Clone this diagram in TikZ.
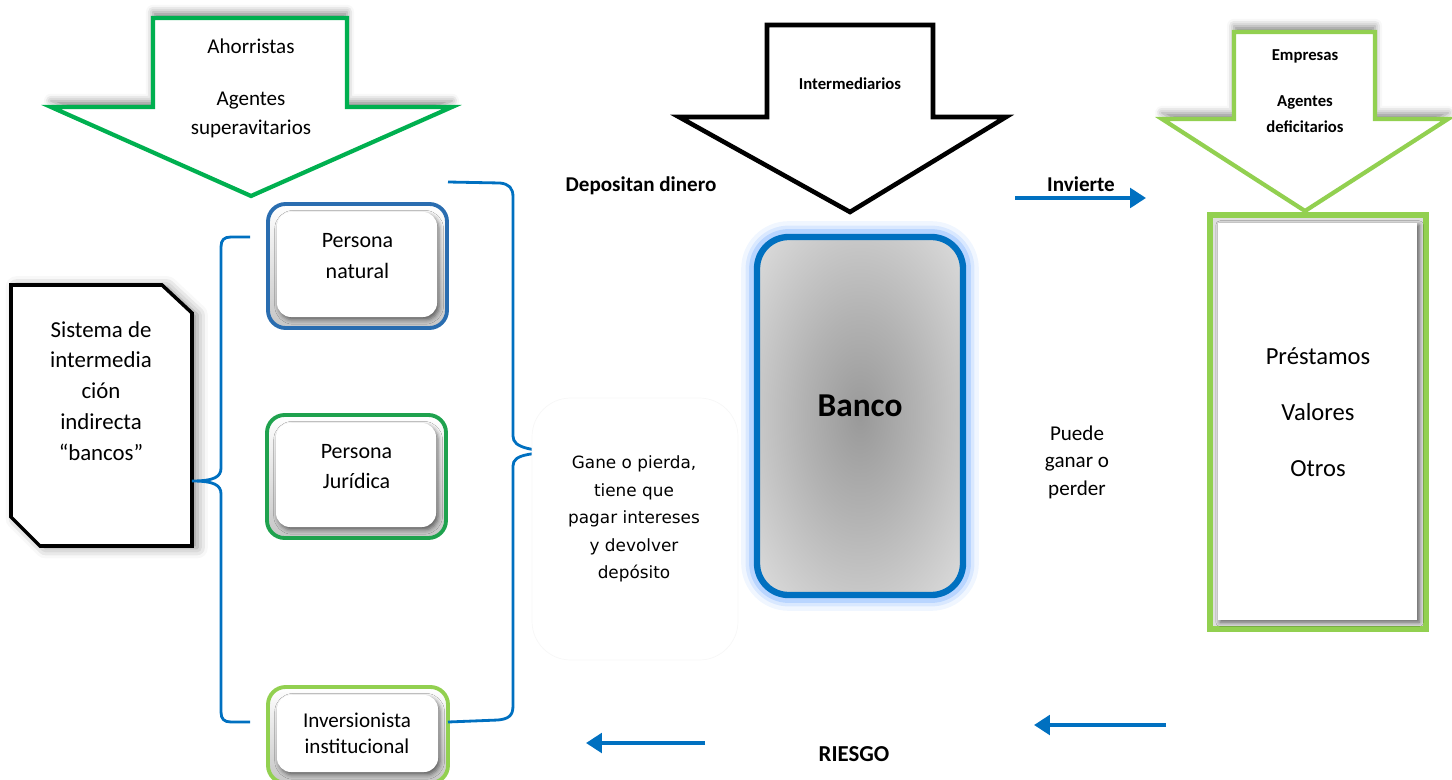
\documentclass[tikz,border=0pt]{standalone}
\usepackage{fontspec}
\setmainfont{Carlito}
\newfontfamily\notefont{DejaVu Sans}
\usetikzlibrary{shadows.blur,arrows.meta,calc}

\definecolor{bluebr}{HTML}{0070C0}
\definecolor{greenA}{HTML}{00B050}
\definecolor{greenJ}{HTML}{1FA24E}
\definecolor{greenL}{HTML}{92D050}
\definecolor{naturalblue}{HTML}{2A6DB0}
\definecolor{glowblue}{HTML}{6FA8FF}

% soft grey radial fill for the bank
\pgfdeclareradialshading{bankshade}{\pgfpoint{0bp}{0bp}}{%
  color(0bp)=(black!40); color(14bp)=(black!30); color(32bp)=(black!16);
  color(50bp)=(black!6); color(100bp)=(black!6)}

% bevelled rounded box: name, cx, cy, w, h, colour, text
\newcommand\bevelbox[7]{%
  \draw[line width=2.2pt, draw=#6, top color=white, bottom color=gray!45,
        rounded corners=10pt]
    (#2-#4/2,#3-#5/2) rectangle (#2+#4/2,#3+#5/2);
  \fill[white, rounded corners=8pt,
        blur shadow={shadow xshift=1.2pt, shadow yshift=-1.6pt,
                     shadow blur radius=2.5pt, shadow opacity=55}]
    (#2-#4/2+9,#3-#5/2+8) rectangle (#2+#4/2-10,#3+#5/2-11);
  \node[lbl, font=\fontsize{12.5}{17.6}\selectfont] (#1) at (#2,#3-10) {#7};
}

\begin{document}
\begin{tikzpicture}[x=0.02cm,y=-0.02cm,
  lbl/.style={align=center, inner sep=0pt},
  bracepath/.style={draw=bluebr, line width=1.6pt},
  flow/.style={draw=bluebr, line width=2.4pt,
               -{Triangle[length=9pt,width=11pt]}},
  bigarrow/.style={fill=white, line width=2.4pt, line join=miter},
  upshadow/.style={blur shadow={shadow xshift=0pt, shadow yshift=3.5pt,
                   shadow blur radius=4pt, shadow opacity=45}},
  boldlbl/.style={lbl, font=\bfseries\fontsize{12}{14}\selectfont},
]
\useasboundingbox (0,0) rectangle (1452,780);
\clip (0,0) rectangle (1452,780);

% ---- big block arrows at the top ----
\draw[bigarrow, draw=greenA, upshadow]
  (153,18) -- (347,18) -- (347,107) -- (452,107) -- (251,196)
  -- (51,107) -- (153,107) -- cycle;
\node[lbl, font=\fontsize{12}{14}\selectfont] (ahorr) at (251,46) {Ahorristas};
\node[lbl, font=\fontsize{12}{17}\selectfont] (agsup) at (251,115)
  {Agentes\\superavitarios};

\draw[bigarrow, draw=black, line width=2.6pt]
  (767,25) -- (933,25) -- (933,117) -- (1006,117) -- (850,212)
  -- (679,117) -- (767,117) -- cycle;
\node[lbl, font=\bfseries\fontsize{9.5}{11}\selectfont] (interm) at (850,84)
  {Intermediarios};

\draw[bigarrow, draw=greenL, upshadow]
  (1234,32) -- (1375,32) -- (1375,119) -- (1448,119) -- (1305,211)
  -- (1162,119) -- (1234,119) -- cycle;
\node[lbl, font=\bfseries\fontsize{9.5}{11}\selectfont] (empr) at (1305,56)
  {Empresas};
\node[lbl, font=\bfseries\fontsize{9.5}{15}\selectfont] (agdef) at (1305,114)
  {Agentes\\deficitarios};

% ---- savers ----
\bevelbox{pnat}{357.5}{266}{179}{124}{naturalblue}{Persona\\natural}
\bevelbox{pjur}{356.5}{476.5}{179}{123}{greenJ}{Persona\\Jurídica}
\bevelbox{inst}{358}{735}{180}{96}{greenL}{}
\node[lbl, font=\fontsize{12}{14.8}\selectfont] (insttxt) at (357,733)
  {Inversionista\\institucional};

% ---- indirect intermediation system ----
\draw[line width=2pt, fill=white,
      blur shadow={shadow xshift=3pt, shadow yshift=-1pt,
                   shadow blur radius=6pt, shadow opacity=45}]
  (11,285) -- (162,285) -- (192,313) -- (192,546) -- (40,546)
  -- (11,517) -- cycle;
\node[lbl, font=\fontsize{13}{17.6}\selectfont] (sis) at (101,391)
  {Sistema de\\intermedia\\ción\\indirecta\\“bancos”};
\coordinate (sisE) at (192,481);

% ---- braces ----
\coordinate (lbTop) at (250,237);
\coordinate (lbBot) at (250,722);
\draw[bracepath] (lbTop) -- (231,237) .. controls (224,237) and (221,240) .. (221,247)
  -- (221,468) .. controls (221,477) and (214,481) .. (sisE)
  .. controls (214,481) and (221,485) .. (221,494)
  -- (221,712) .. controls (221,719) and (224,722) .. (231,722) -- (lbBot);

\coordinate (rbTop) at (448,182);
\coordinate (rbBot) at (448,722);
\coordinate (rbTip) at (581,452);
\draw[bracepath] (rbTop) -- (500,183) .. controls (509,184) and (513,188) .. (513,197)
  -- (513,436) .. controls (513,448) and (530,452) .. (rbTip)
  .. controls (530,452) and (513,454) .. (513,466)
  -- (513,706) .. controls (513,716) and (508,719) .. (498,720) -- (rbBot);

% ---- note box ----
\draw[draw=gray!6, fill=white, rounded corners=22pt] (532,398) rectangle (738,660);
\node[lbl, font=\notefont\fontsize{9.6}{15.6}\selectfont] (gane) at (634,519)
  {Gane o pierda,\\tiene que\\pagar intereses\\y devolver\\depósito};

% ---- bank ----
\foreach \w/\o in {18/0.10,13/0.18,9/0.3}
  \draw[draw=glowblue, line width=\w pt, opacity=\o, rounded corners=18pt]
    (757,237) rectangle (963,595);
\draw[draw=bluebr, line width=3.6pt, rounded corners=18pt, shading=bankshade]
  (757,237) rectangle (963,595);
\node[lbl, font=\bfseries\fontsize{19}{22}\selectfont] (banco) at (860,406) {Banco};

\node[boldlbl] (dep) at (641,186) {Depositan dinero};

% ---- investments ----
\node[boldlbl] (inv) at (1081,184) {Invierte};
\coordinate (invA) at (1015,198);
\coordinate (invB) at (1146,198);
\draw[flow] (invA) -- (invB);

\draw[draw=greenL, line width=3pt, fill=gray!25] (1210,215) rectangle (1426,629);
\fill[white, blur shadow={shadow xshift=1.2pt, shadow yshift=-1.2pt,
      shadow blur radius=2.5pt, shadow opacity=60}]
  (1218,223) rectangle (1417,620);
\node[lbl, font=\fontsize{14}{32}\selectfont] (prest) at (1318,412)
  {Préstamos\\Valores\\Otros};

\node[lbl, font=\fontsize{12}{15.6}\selectfont] (puede) at (1077,462)
  {Puede\\ganar o\\perder};

% ---- risk ----
\coordinate (rkA) at (1166,725);
\coordinate (rkB) at (1034,725);
\draw[flow] (rkA) -- (rkB);
\coordinate (rkC) at (705,743);
\coordinate (rkD) at (586,743);
\draw[flow] (rkC) -- (rkD);
\node[lbl, font=\bfseries\fontsize{13}{15}\selectfont] (riesgo) at (854,754) {RIESGO};
\end{tikzpicture}
\end{document}
